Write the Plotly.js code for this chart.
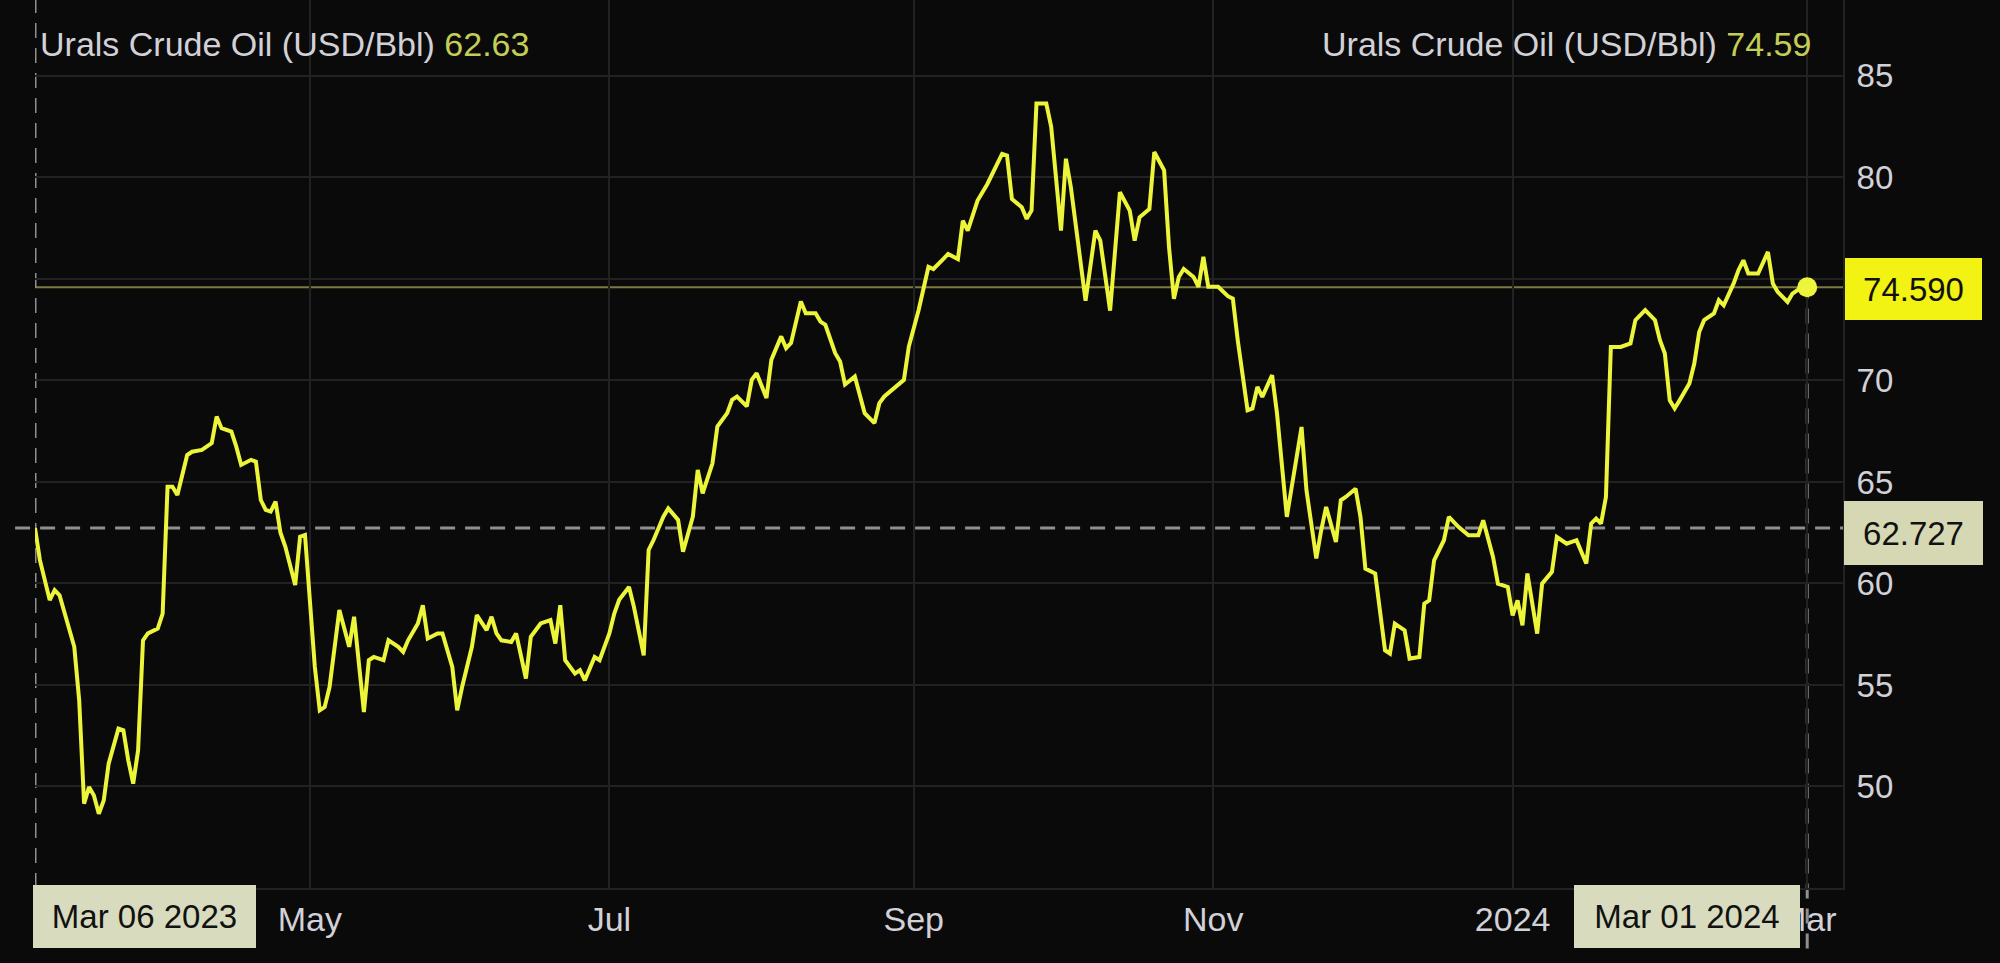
<!DOCTYPE html>
<html>
<head>
<meta charset="utf-8">
<script src="https://cdn.plot.ly/plotly-3.0.1.min.js"></script>
<style>
  html, body { margin: 0; padding: 0; background: #0b0a0a; }
  #chart { width: 2000px; height: 963px; }
</style>
</head>
<body>
<div id="chart"></div>
<script>
// ---- data ----
const seriesName = 'Urals Crude Oil (USD/Bbl)';
const dates = [
  '2023-03-06','2023-03-07','2023-03-09','2023-03-10','2023-03-11','2023-03-12','2023-03-14','2023-03-15','2023-03-16','2023-03-17',
  '2023-03-18','2023-03-19','2023-03-20','2023-03-21','2023-03-23','2023-03-24','2023-03-25','2023-03-26','2023-03-27','2023-03-28',
  '2023-03-29','2023-03-31','2023-04-01','2023-04-02','2023-04-03','2023-04-04','2023-04-05','2023-04-06','2023-04-07','2023-04-09',
  '2023-04-11','2023-04-12','2023-04-13','2023-04-15','2023-04-16','2023-04-17','2023-04-19','2023-04-20','2023-04-21','2023-04-22',
  '2023-04-23','2023-04-24','2023-04-25','2023-04-26','2023-04-28','2023-04-29','2023-04-30','2023-05-01','2023-05-02','2023-05-03',
  '2023-05-04','2023-05-05','2023-05-07','2023-05-09','2023-05-10','2023-05-12','2023-05-13','2023-05-14','2023-05-16','2023-05-17',
  '2023-05-19','2023-05-20','2023-05-21','2023-05-23','2023-05-24','2023-05-25','2023-05-27','2023-05-28','2023-05-30','2023-05-31',
  '2023-06-01','2023-06-03','2023-06-04','2023-06-06','2023-06-07','2023-06-08','2023-06-09','2023-06-11','2023-06-12','2023-06-14',
  '2023-06-15','2023-06-17','2023-06-19','2023-06-20','2023-06-21','2023-06-22','2023-06-24','2023-06-25','2023-06-26','2023-06-28',
  '2023-06-29','2023-07-01','2023-07-02','2023-07-03','2023-07-05','2023-07-06','2023-07-08','2023-07-09','2023-07-10','2023-07-12',
  '2023-07-13','2023-07-15','2023-07-16','2023-07-18','2023-07-19','2023-07-20','2023-07-22','2023-07-23','2023-07-25','2023-07-26',
  '2023-07-27','2023-07-29','2023-07-30','2023-07-31','2023-08-02','2023-08-03','2023-08-05','2023-08-06','2023-08-07','2023-08-09',
  '2023-08-10','2023-08-12','2023-08-13','2023-08-14','2023-08-16','2023-08-17','2023-08-18','2023-08-20','2023-08-21','2023-08-22',
  '2023-08-24','2023-08-25','2023-08-26','2023-08-28','2023-08-30','2023-08-31','2023-09-02','2023-09-04','2023-09-05','2023-09-07',
  '2023-09-08','2023-09-10','2023-09-11','2023-09-12','2023-09-14','2023-09-16','2023-09-18','2023-09-19','2023-09-20','2023-09-21',
  '2023-09-23','2023-09-24','2023-09-25','2023-09-26','2023-09-28','2023-09-29','2023-10-01','2023-10-02','2023-10-03','2023-10-04',
  '2023-10-06','2023-10-08','2023-10-09','2023-10-11','2023-10-12','2023-10-13','2023-10-15','2023-10-16','2023-10-17','2023-10-19',
  '2023-10-20','2023-10-22','2023-10-23','2023-10-24','2023-10-25','2023-10-26','2023-10-28','2023-10-29','2023-10-30','2023-10-31',
  '2023-11-02','2023-11-03','2023-11-04','2023-11-05','2023-11-06','2023-11-08','2023-11-09','2023-11-10','2023-11-11','2023-11-13',
  '2023-11-14','2023-11-16','2023-11-17','2023-11-19','2023-11-20','2023-11-22','2023-11-23','2023-11-24','2023-11-26','2023-11-27',
  '2023-11-28','2023-11-30','2023-12-01','2023-12-02','2023-12-04','2023-12-06','2023-12-07','2023-12-08','2023-12-10','2023-12-11',
  '2023-12-13','2023-12-14','2023-12-15','2023-12-16','2023-12-18','2023-12-19','2023-12-21','2023-12-23','2023-12-25','2023-12-26',
  '2023-12-28','2023-12-29','2023-12-31','2024-01-01','2024-01-02','2024-01-03','2024-01-04','2024-01-05','2024-01-06','2024-01-07',
  '2024-01-09','2024-01-10','2024-01-12','2024-01-14','2024-01-16','2024-01-17','2024-01-18','2024-01-19','2024-01-20','2024-01-21',
  '2024-01-23','2024-01-25','2024-01-26','2024-01-28','2024-01-30','2024-01-31','2024-02-01','2024-02-02','2024-02-03','2024-02-04',
  '2024-02-06','2024-02-07','2024-02-08','2024-02-09','2024-02-11','2024-02-12','2024-02-13','2024-02-15','2024-02-16','2024-02-17',
  '2024-02-18','2024-02-20','2024-02-22','2024-02-23','2024-02-24','2024-02-26','2024-02-27','2024-02-29','2024-03-01'
];
const prices = [
  62.727,61.15,59.18,59.67,59.42,58.54,56.88,54.25,49.15,49.97,
  49.56,48.66,49.31,51.12,52.85,52.77,51.29,50.14,51.78,57.20,
  57.54,57.78,58.52,64.77,64.77,64.36,65.43,66.33,66.49,66.58,
  66.91,68.22,67.65,67.48,66.74,65.84,66.09,66.00,64.11,63.62,
  63.54,64.03,62.50,61.81,59.92,62.30,62.39,59.18,55.89,53.75,
  53.91,54.90,58.69,56.88,58.36,53.67,56.22,56.38,56.22,57.20,
  56.88,56.63,57.20,58.03,58.93,57.29,57.54,57.54,55.89,53.75,
  54.90,56.88,58.44,57.70,58.36,57.54,57.20,57.12,57.54,55.32,
  57.37,58.03,58.19,57.04,58.93,56.22,55.56,55.73,55.23,56.38,
  56.22,57.54,58.52,59.20,59.83,58.85,56.46,61.65,62.14,63.29,
  63.70,63.13,61.56,63.29,65.59,64.44,65.92,67.73,68.39,69.05,
  69.21,68.72,70.03,70.36,69.13,71.02,72.17,71.59,71.84,73.89,
  73.31,73.31,72.90,72.74,71.34,70.93,69.80,70.19,69.36,68.39,
  67.90,68.88,69.21,69.61,70.03,71.67,73.47,75.60,75.49,75.98,
  76.23,75.98,77.87,77.38,78.86,79.68,80.67,81.16,81.08,78.94,
  78.53,77.96,78.37,83.64,83.64,82.49,77.38,80.92,79.53,77.56,
  73.93,77.38,76.89,73.44,76.23,79.27,78.37,76.89,78.04,78.45,
  81.25,80.35,76.57,74.02,75.10,75.49,75.10,74.61,76.09,74.61,
  74.61,74.36,74.15,74.03,71.98,68.53,68.62,69.68,69.19,70.26,
  68.37,63.28,64.75,67.71,64.59,61.23,62.62,63.77,62.04,64.10,
  64.26,64.67,63.28,60.73,60.49,56.71,56.55,58.02,57.69,56.30,
  56.38,59.01,59.17,61.14,62.13,63.28,62.78,62.37,62.37,63.11,
  61.31,59.99,59.83,58.43,59.17,57.94,60.49,59.01,57.53,59.99,
  60.57,62.29,61.96,62.13,60.98,62.95,63.20,62.95,64.26,71.65,
  71.65,71.82,72.97,73.46,72.97,71.98,71.33,69.02,68.62,69.02,
  69.85,70.83,72.39,72.97,73.30,73.95,73.70,74.77,75.43,75.92,
  75.27,75.27,76.33,74.77,74.36,73.87,74.28,74.61,74.59
];
const tickDates  = ['2023-05-01','2023-07-01','2023-09-01','2023-11-01','2024-01-01','2024-03-01'];
const tickLabels = ['May','Jul','Sep','Nov','2024','Mar'];
const yTicks     = [50,55,60,65,70,75,80,85];
const yTickText  = ['50','55','60','65','70','','80','85'];  // 75 is hidden behind the last-value box
const leftHeaderValue  = '62.63';
const rightHeaderValue = '74.59';
const startLabel = 'Mar 06 2023';
const endLabel   = 'Mar 01 2024';

// ---- derived ----
const startDate = dates[0], endDate = dates[dates.length - 1];
const startValue = prices[0], endValue = prices[prices.length - 1];
const yRange = [45, 88.74];
const xRange = ['2023-03-06', '2024-03-08 07:00'];

const FONT = 'Liberation Sans, Arial, Helvetica, sans-serif';
const LINE = '#ecf53a';
const GRID = '#222222';
const TXT  = '#d2d1d8';
const VAL  = '#c3cd58';
const DASH = '#8f8f8f';

const traces = [
  { type: 'scatter', mode: 'lines', x: dates, y: prices, name: seriesName,
    line: { color: LINE, width: 4 }, hoverinfo: 'skip' },
  { type: 'scatter', mode: 'markers', x: [endDate], y: [endValue],
    marker: { color: LINE, size: 20 }, hoverinfo: 'skip' }
];

const endFrac = (endValue - yRange[0]) / (yRange[1] - yRange[0]);

const shapes = [
  { type: 'line', layer: 'below', xref: 'paper', x0: 0, x1: 1, yref: 'y', y0: endValue, y1: endValue,
    line: { color: 'rgba(185,185,95,0.65)', width: 2 } },
  { type: 'line', layer: 'below', xref: 'paper', x0: -0.011, x1: 1, yref: 'y', y0: startValue, y1: startValue,
    line: { color: DASH, width: 3, dash: '15px,10px' } },
  { type: 'line', layer: 'below', xref: 'x', x0: startDate, x1: startDate, yref: 'paper', y0: 0, y1: 1,
    line: { color: DASH, width: 3, dash: '15px,10px' } },
  { type: 'line', layer: 'below', xref: 'x', x0: endDate, x1: endDate, yref: 'paper', y0: -0.068, y1: endFrac,
    line: { color: DASH, width: 3, dash: '15px,10px' } }
];

const boxFont = { family: FONT, size: 33, color: '#111111' };
const annotations = [
  { xref: 'paper', x: 0, xanchor: 'left', xshift: 3, yref: 'paper', y: 1, yanchor: 'middle', yshift: -44,
    showarrow: false, font: { family: FONT, size: 34, color: TXT },
    text: seriesName + ' <span style="color:' + VAL + '">' + leftHeaderValue + '</span>' },
  { xref: 'paper', x: 1, xanchor: 'right', xshift: -30, yref: 'paper', y: 1, yanchor: 'middle', yshift: -44,
    showarrow: false, font: { family: FONT, size: 34, color: TXT },
    text: seriesName + ' <span style="color:' + VAL + '">' + rightHeaderValue + '</span>' },
  { xref: 'paper', x: 1, xanchor: 'left', xshift: 2, yref: 'y', y: endValue, yanchor: 'middle', yshift: -2,
    showarrow: false, text: endValue.toFixed(3), font: boxFont, bgcolor: '#f2f213',
    width: 137, height: 62, borderpad: 0, borderwidth: 0 },
  { xref: 'paper', x: 1, xanchor: 'left', xshift: 1, yref: 'y', y: startValue, yanchor: 'middle', yshift: -5,
    showarrow: false, text: startValue.toFixed(3), font: boxFont, bgcolor: '#d6d8b4',
    width: 139, height: 64, borderpad: 0, borderwidth: 0 },
  { xref: 'x', x: startDate, xanchor: 'left', xshift: -2, yref: 'paper', y: 0, yanchor: 'top', yshift: 3,
    showarrow: false, text: startLabel, font: boxFont, bgcolor: '#d8dbbd',
    width: 223, height: 63, borderpad: 0, borderwidth: 0 },
  { xref: 'x', x: endDate, xanchor: 'right', xshift: -7, yref: 'paper', y: 0, yanchor: 'top', yshift: 3,
    showarrow: false, text: endLabel, font: boxFont, bgcolor: '#d8dbbd',
    width: 226, height: 63, borderpad: 0, borderwidth: 0 }
];

const layout = {
  width: 2000, height: 963,
  margin: { l: 35, r: 157, t: 0, b: 75, pad: 0 },
  paper_bgcolor: '#0b0a0a', plot_bgcolor: '#0b0a0a',
  showlegend: false,
  font: { family: FONT, size: 34, color: TXT },
  xaxis: {
    type: 'date', range: xRange, tickmode: 'array', tickvals: tickDates, ticktext: tickLabels,
    showgrid: true, gridcolor: GRID, gridwidth: 2, zeroline: false,
    showline: true, linecolor: GRID, linewidth: 2,
    ticks: '', ticklabelstandoff: 0,
    tickfont: { family: FONT, size: 34, color: TXT }, fixedrange: true
  },
  yaxis: {
    side: 'right', range: yRange, tickmode: 'array', tickvals: yTicks, ticktext: yTickText,
    showgrid: true, gridcolor: GRID, gridwidth: 2, zeroline: false,
    showline: true, linecolor: GRID, linewidth: 2,
    ticks: '', ticklabelstandoff: 5,
    tickfont: { family: FONT, size: 33, color: TXT }, fixedrange: true
  },
  shapes: shapes,
  annotations: annotations
};

Plotly.newPlot('chart', traces, layout, { displayModeBar: false, staticPlot: true, responsive: false });
</script>
</body>
</html>
